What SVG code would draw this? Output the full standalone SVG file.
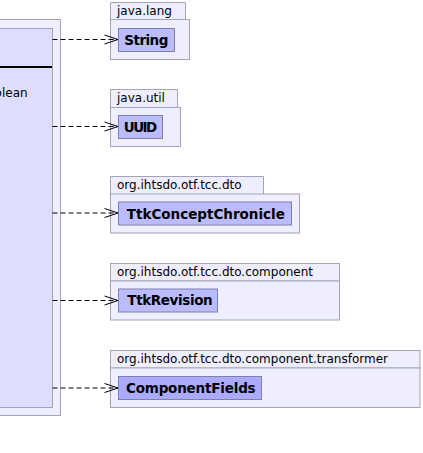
<svg xmlns="http://www.w3.org/2000/svg" width="423" height="453" viewBox="0 0 423 453">
<style>
.pkg{fill:#eeeeff;stroke:#a3a3ba;stroke-width:1}
.cls{fill:#bbbbff;stroke:#7f7fae;stroke-width:1}
.cls2{fill:#aaaaff;stroke:#7f7fae;stroke-width:1}
.ptxt{font-family:"DejaVu Sans",sans-serif;font-size:12px;fill:#000}
.ctxt{font-family:"DejaVu Sans",sans-serif;font-size:13.5px;font-weight:bold;fill:#000;text-anchor:middle}
.dep{fill:none;stroke:#000;stroke-width:1;stroke-dasharray:5,3}
.head{fill:none;stroke:#000;stroke-width:1}
</style>
<rect width="423" height="453" fill="#ffffff"/>
<g id="main">
<rect x="-10" y="19.5" width="70.5" height="396" class="pkg"/>
<rect x="-10" y="28.5" width="62.5" height="379" fill="#ddddff" stroke="#a3a3ba" stroke-width="1"/>
<line x1="-10" y1="67" x2="52" y2="67" stroke="#000" stroke-width="2"/>
<text x="27.6" y="96.5" class="ptxt" text-anchor="end">boolean</text>
</g>
<g id="pkg-java-lang">
<path d="M110.5 19.5 V2.5 H185.5 V19.5" class="pkg"/>
<rect x="110.5" y="19.5" width="79" height="40" class="pkg"/>
<text x="117" y="15" class="ptxt">java.lang</text>
<g id="String">
<rect x="118.5" y="28.5" width="56" height="23" class="cls"/>
<text x="146.3" y="44.8" class="ctxt" textLength="44" lengthAdjust="spacing">String</text>
</g>
</g>
<g id="pkg-java-util">
<path d="M110.5 107.5 V89.5 H177.5 V107.5" class="pkg"/>
<rect x="110.5" y="107.5" width="70" height="39" class="pkg"/>
<text x="117" y="102" class="ptxt">java.util</text>
<g id="UUID">
<rect x="118.5" y="115.5" width="44" height="23" class="cls"/>
<text x="140.5" y="131.8" class="ctxt" textLength="33.6" lengthAdjust="spacing">UUID</text>
</g>
</g>
<g id="pkg-dto">
<path d="M110.5 194 V176.5 H263.5 V194" class="pkg"/>
<rect x="110.5" y="194" width="189" height="39" class="pkg"/>
<text x="117" y="189" class="ptxt">org.ihtsdo.otf.tcc.dto</text>
<g id="TtkConceptChronicle">
<rect x="118.5" y="202" width="173" height="23" class="cls"/>
<text x="205.8" y="218.5" class="ctxt" textLength="158" lengthAdjust="spacing">TtkConceptChronicle</text>
</g>
</g>
<g id="pkg-component">
<rect x="110.5" y="263.5" width="229" height="17.5" class="pkg"/>
<rect x="110.5" y="281" width="229" height="39" class="pkg"/>
<text x="117" y="276" class="ptxt">org.ihtsdo.otf.tcc.dto.component</text>
<g id="TtkRevision">
<rect x="118.5" y="289" width="99" height="23" class="cls"/>
<text x="170" y="305.3" class="ctxt" textLength="85.4" lengthAdjust="spacing">TtkRevision</text>
</g>
</g>
<g id="pkg-transformer">
<rect x="110.5" y="350.5" width="309.5" height="17.5" class="pkg"/>
<rect x="110.5" y="368" width="309.5" height="39.5" class="pkg"/>
<text x="117" y="363" class="ptxt">org.ihtsdo.otf.tcc.dto.component.transformer</text>
<g id="ComponentFields">
<rect x="118.5" y="376.5" width="143" height="23" class="cls2"/>
<text x="190.8" y="392.8" class="ctxt" textLength="129.7" lengthAdjust="spacing">ComponentFields</text>
</g>
</g>
<g id="connectors">
<line x1="52.5" y1="39.5" x2="118" y2="39.5" class="dep"/>
<polyline points="104.5,35 118,39.5 104.5,44" class="head"/>
<line x1="52.5" y1="126.5" x2="118" y2="126.5" class="dep"/>
<polyline points="104.5,122 118,126.5 104.5,131" class="head"/>
<line x1="52.5" y1="213" x2="118" y2="213" class="dep"/>
<polyline points="104.5,208.5 118,213 104.5,217.5" class="head"/>
<line x1="52.5" y1="300.5" x2="118" y2="300.5" class="dep"/>
<polyline points="104.5,296 118,300.5 104.5,305" class="head"/>
<line x1="52.5" y1="388" x2="118" y2="388" class="dep"/>
<polyline points="104.5,383.5 118,388 104.5,392.5" class="head"/>
</g>
</svg>
